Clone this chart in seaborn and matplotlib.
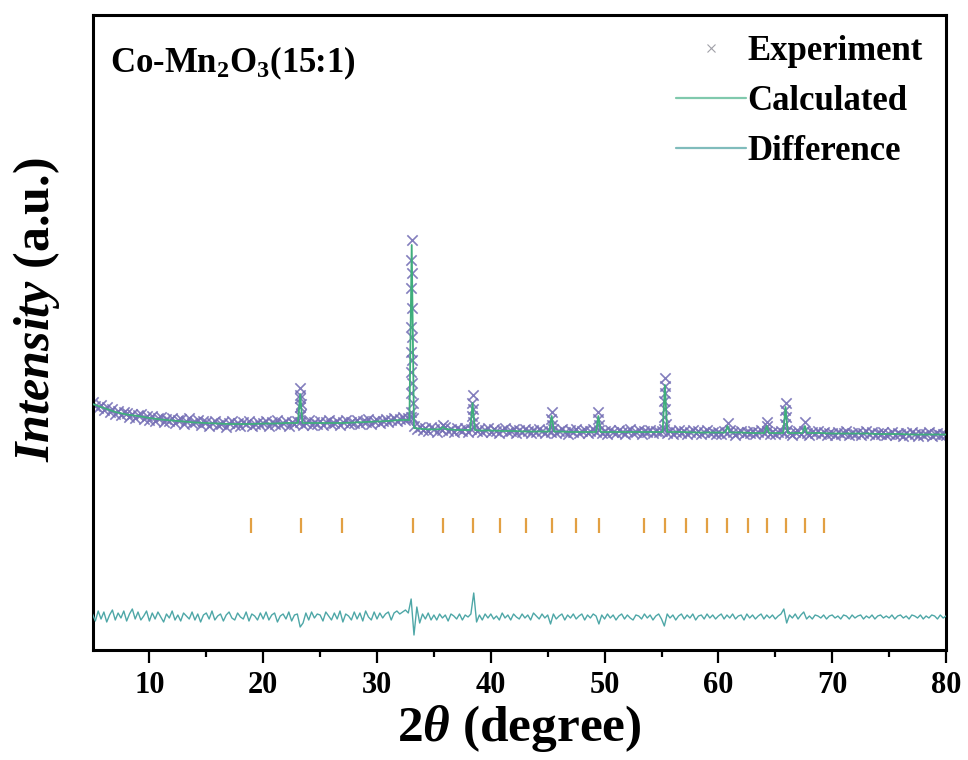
import numpy as np
import pandas as pd
import matplotlib
matplotlib.use("Agg")
import matplotlib.pyplot as plt
from matplotlib.lines import Line2D
import seaborn as sns

# ---------------- data ----------------
# Experimental pattern on a 0.25 degree grid (5.00 ... 80.00)
obs_grid_start, obs_grid_step = 5.0, 0.25
obs_grid_intensity = [
    248, 244, 242, 245, 240, 243, 238, 241, 236, 239, 235, 238, 237, 233, 236, 232, 235, 236, 231, 234,  # 5
    230, 234, 229, 232, 233, 228, 231, 229, 232, 227, 230, 231, 226, 229, 232, 227, 228, 230, 225, 229,  # 10
    228, 224, 227, 229, 225, 226, 228, 223, 227, 229, 225, 227, 224, 228, 226, 229, 224, 226, 228, 225,  # 15
    227, 229, 224, 228, 226, 230, 225, 227, 229, 224, 228, 226, 229, 228, 225, 227, 230, 225, 228, 226,  # 20
    229, 225, 228, 230, 226, 227, 229, 225, 228, 230, 226, 228, 227, 230, 226, 229, 228, 231, 226, 229,  # 25
    230, 227, 229, 231, 228, 230, 232, 229, 231, 233, 230, 232, 233, 224, 221, 223, 220, 222, 219, 223,  # 30
    221, 218, 222, 220, 223, 219, 221, 218, 222, 220, 219, 222, 218, 221, 223, 219, 221, 218, 220, 222,  # 35
    218, 221, 219, 217, 220, 222, 218, 219, 221, 217, 220, 218, 221, 219, 217, 220, 218, 221, 219, 217,  # 40
    220, 218, 221, 217, 219, 221, 218, 216, 220, 218, 221, 217, 219, 220, 217, 219, 221, 218, 220, 217,  # 45
    219, 216, 220, 218, 217, 220, 218, 216, 219, 221, 217, 218, 220, 216, 219, 218, 220, 217, 219, 218,  # 50
    219, 221, 217, 219, 216, 218, 220, 217, 219, 216, 218, 220, 217, 219, 216, 218, 220, 217, 218, 216,  # 55
    218, 216, 219, 217, 220, 218, 215, 218, 219, 216, 218, 217, 219, 216, 218, 220, 217, 219, 216, 218,  # 60
    216, 218, 219, 217, 220, 217, 215, 218, 219, 216, 219, 217, 215, 218, 217, 219, 216, 218, 215, 217,  # 65
    217, 215, 218, 216, 217, 219, 215, 217, 216, 218, 215, 217, 219, 216, 218, 215, 217, 216, 218, 215,  # 70
    216, 218, 215, 217, 216, 214, 217, 215, 218, 216, 214, 217, 215, 216, 218, 214, 216, 217, 215, 216,  # 75
    215,                                                                                                  # 80
]
# Experimental points on the flanks of the Bragg peaks
obs_peak_theta = [
    23.19, 23.21, 23.23, 23.25, 23.27, 23.29, 23.31,
    33.05, 33.03, 33.07, 33.02, 33.08, 33.03, 33.07, 33.01, 33.09, 33.00,
    33.10, 32.98, 33.12, 32.96, 33.15,
    35.80,
    38.40, 38.37, 38.43, 38.36, 38.45,
    45.35, 45.32, 45.38,
    49.45, 49.42, 49.48,
    55.30, 55.28, 55.33, 55.26, 55.34, 55.25, 55.36,
    60.80,
    64.25, 64.30,
    65.90, 65.87, 65.93, 65.86,
    67.60,
]
obs_peak_intensity = [
    234, 243, 252, 262, 255, 246, 236,
    410, 390, 377, 362, 342, 323, 313, 298, 290, 278,
    267, 257, 247, 238, 232,
    225,
    255, 247, 241, 234, 228,
    238, 231, 225,
    238, 231, 225,
    272, 264, 257, 249, 241, 233, 226,
    227,
    228, 224,
    247, 240, 233, 226,
    228,
]

# Calculated pattern: background knots + peak apexes
calc_bg_theta = list(range(5, 81))
calc_bg_intensity = [
    246, 242, 238, 235.5, 234, 232, 230.5, 229.5, 228.5, 227.5,   # 5-14
    227, 226.5, 226, 226, 226, 226.5, 226.5, 227, 227, 227,       # 15-24
    227, 227, 227, 227.5, 228, 228.5, 229, 230, 226, 221,         # 25-34
    220.5, 220.5, 220, 220, 219.5, 219.5, 219, 219, 218.5, 218.5, # 35-44
    218.5, 218.5, 218, 218, 218, 218, 218, 218, 218, 218,         # 45-54
    218, 218, 218, 217.5, 217.5, 217.5, 217.5, 217.5, 217, 217,   # 55-64
    217, 217, 217, 217, 217, 216.5, 216.5, 216.5, 216.5, 216,     # 65-74
    216, 216, 215.5, 215.5, 215.5, 215.5,                         # 75-80
]
calc_peak_theta = [23.25, 33.05, 35.80, 38.40, 45.35, 49.45, 55.30, 60.80, 64.25, 65.90, 67.60]
calc_peak_left_base = [227, 230, 221, 220, 218.5, 218, 218, 217.5, 217, 217, 217]
calc_peak_top = [256, 405, 223, 247, 234, 234, 265, 224, 224, 243, 224]
calc_peak_right_base = [227, 222, 221, 220, 218.5, 218, 218, 217.5, 217, 217, 217]

# Difference curve (obs - calc) on a 0.25 degree grid (5.00 ... 80.00)
diff_start, diff_step = 5.0, 0.25
diff_values = [
    3, -4, 6, -2, 5, -5, 2, 7, -3, 4, -1, 6, -4, 3, 8, -2, 5, -3, 1, 6,        # 5
    -4, 4, -2, 5, 0, -5, 3, -1, 6, -3, 2, -4, 4, 1, -2, 5, -3, 3, -5, 2,       # 10
    4, -2, 6, -3, 1, 3, -4, 2, 5, -1, -3, 4, 0, -2, 5, -4, 3, 1, -3, 4,        # 15
    -2, 5, -3, 2, 4, -5, 1, 3, -2, 5, -4, 2, 3, -10, -6, 4, -3, 5, -1, 3,      # 20
    2, -4, 5, 1, -3, 4, -2, 6, -5, 3, 1, -3, 5, -2, 4, -4, 6, 0, -3, 5,        # 25
    -2, 4, -1, 3, 5, -3, 4, 6, 3, 5, 7, 4, 18, -18, 10, -6, 3, -2, 4, -3,      # 30
    2, -3, 3, -1, 2, -4, 3, 1, -2, 3, -3, 2, 0, 3, 24, -5, 2, -3, 3, -1,       # 35
    3, -2, 1, -3, 4, -1, 2, -3, 3, 0, -2, 3, -1, 2, -3, 4, 1, -2, 3, -1,       # 40
    2, -7, 3, -2, 1, 3, -3, 2, -1, 3, -2, 1, 3, -3, 2, -1, 3, 1, -7, 2,        # 45
    -2, 3, -1, 2, -3, 1, 3, -2, 2, -1, -3, 2, 1, -2, 3, -1, 2, -3, 1, 3,       # 50
    -2, -9, 3, -1, 2, -3, 1, 3, -2, 2, -1, 3, -3, 1, 2, -2, 3, -1, 2, -2,      # 55
    1, 3, -2, 2, -1, 3, -2, 1, 2, -3, 3, -1, 2, -2, 1, 3, -2, 2, -1, 2,        # 60
    -2, 1, 3, 8, -6, 2, -1, 3, -2, 2, 5, -2, 1, -2, 2, 1, -1, 2, -2, 1,        # 65
    2, -1, 1, -2, 2, 1, -2, 2, -1, 1, 2, -2, 1, -1, 2, -2, 1, 2, -1, 1,        # 70
    -1, 2, -2, 1, 2, -1, 1, -2, 2, 1, -1, 2, -2, 1, -1, 2, 1, -2, 2, -1,       # 75
    1,                                                                          # 80
]

# Bragg reflection positions (Mn2O3)
bragg_theta = [18.93, 23.29, 26.91, 33.12, 35.84, 38.42, 40.79, 43.06, 45.35, 47.45,
               49.51, 53.44, 55.33, 57.18, 59.02, 60.76, 62.58, 64.25, 65.97, 67.64, 69.31]

legend_labels = ["Experiment", "Calculated", "Difference"]
sample_label = r"Co-Mn$_2$O$_3$(15:1)"

# ---------------- style / layout constants ----------------
DIFF_OFFSET = 33
BRAGG_LO, BRAGG_HI = 117, 132
PEAK_HALF_WIDTH = 0.2
C_OBS = "#7670b6"
C_CALC = "#3fae7c"
C_DIFF = "#4ea7a7"
C_BRAGG = "#e2a043"

sns.set_theme(style="white")
plt.rcParams["font.family"] = ["Liberation Serif", "DejaVu Serif"]
plt.rcParams["font.weight"] = "bold"
plt.rcParams["text.color"] = "black"
plt.rcParams["axes.labelcolor"] = "black"
plt.rcParams["xtick.color"] = "black"
plt.rcParams["xtick.labelcolor"] = "black"
plt.rcParams["mathtext.fontset"] = "custom"
plt.rcParams["mathtext.rm"] = "Liberation Serif:bold"
plt.rcParams["mathtext.it"] = "Liberation Serif:italic:bold"
plt.rcParams["mathtext.bf"] = "Liberation Serif:bold"

# ---------------- build tables ----------------
obs_grid_theta = obs_grid_start + obs_grid_step * np.arange(len(obs_grid_intensity))
obs_df = pd.DataFrame({
    "two_theta": np.concatenate([obs_grid_theta, obs_peak_theta]),
    "intensity": np.concatenate([obs_grid_intensity, obs_peak_intensity]),
})

bg = pd.DataFrame({"two_theta": calc_bg_theta, "intensity": calc_bg_intensity})
pk = np.array(calc_peak_theta)
keep = np.array([np.min(np.abs(pk - t)) > 0.3 for t in bg["two_theta"]])
bg = bg[keep]
peaks = pd.DataFrame({
    "two_theta": np.concatenate([pk - PEAK_HALF_WIDTH, pk, pk + PEAK_HALF_WIDTH]),
    "intensity": np.concatenate([calc_peak_left_base, calc_peak_top, calc_peak_right_base]),
})
calc_df = pd.concat([bg, peaks]).sort_values("two_theta").reset_index(drop=True)

diff_theta = diff_start + diff_step * np.arange(len(diff_values))
diff_df = pd.DataFrame({"two_theta": diff_theta,
                        "intensity": np.array(diff_values) + DIFF_OFFSET})

# ---------------- figure ----------------
fig = plt.figure(figsize=(9.68, 7.6), dpi=100)
ax = fig.add_axes([92.5 / 968, 1 - 650 / 760, 853.5 / 968, 635 / 760])

sns.scatterplot(data=obs_df, x="two_theta", y="intensity", marker="x", s=55,
                color=C_OBS, linewidth=1.2, alpha=0.9, ax=ax, legend=False, zorder=2)
sns.lineplot(data=calc_df, x="two_theta", y="intensity", color=C_CALC, lw=1.3,
             ax=ax, legend=False, zorder=3, estimator=None)
sns.lineplot(data=diff_df, x="two_theta", y="intensity", color=C_DIFF, lw=1.0,
             ax=ax, legend=False, zorder=3, estimator=None)
ax.vlines(bragg_theta, BRAGG_LO, BRAGG_HI, color=C_BRAGG, lw=1.6, zorder=3)

ax.set_xlim(5, 80)
ax.set_ylim(0, 635)
ax.set_xticks(np.arange(10, 81, 10))
ax.set_xticks(np.arange(15, 80, 10), minor=True)
ax.set_yticks([])
ax.tick_params(axis="x", which="major", direction="out", length=9, width=1.6,
               labelsize=22, pad=6, bottom=True, color="black", labelcolor="black")
ax.tick_params(axis="x", which="minor", direction="out", length=5, width=1.6,
               bottom=True, color="black")
for lab in ax.get_xticklabels():
    lab.set_fontweight("bold")
for sp in ax.spines.values():
    sp.set_visible(True)
    sp.set_linewidth(2.2)
    sp.set_color("black")

ax.set_xlabel(r"$\mathit{2\theta}$ (degree)", fontsize=37, fontweight="bold", color="black")
ax.xaxis.set_label_coords(0.5, -0.083)
ax.set_ylabel(r"$\mathit{Intensity}$ (a.u.)", fontsize=36, fontweight="bold", color="black")
ax.yaxis.set_label_coords(-0.036, 0.535)

ax.text(0.0205, 0.924, sample_label, transform=ax.transAxes, fontsize=25,
        fontweight="bold", va="center", ha="left", color="black")

handles = [
    Line2D([], [], ls="", marker="x", ms=6, mew=0.8, color="#a0a0a8"),
    Line2D([], [], color="#80c9ad", lw=1.6),
    Line2D([], [], color="#80bcbc", lw=1.6),
]
leg = ax.legend(handles, legend_labels, loc="upper left", bbox_to_anchor=(0.684, 0.969),
                frameon=False, prop={"size": 25, "weight": "bold"}, handlelength=2.0,
                handletextpad=0.05, labelspacing=0.5, borderpad=0, borderaxespad=0)
for t in leg.get_texts():
    t.set_color("black")

fig.savefig("out.png", dpi=100)
